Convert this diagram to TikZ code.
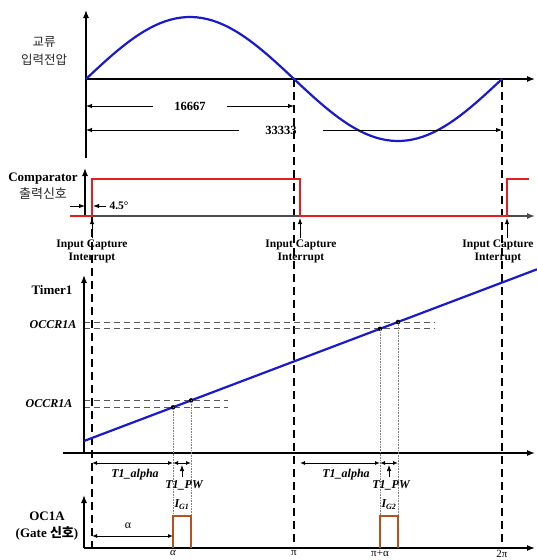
\documentclass[tikz,border=0pt]{standalone}
\usepackage{fontspec}
\setmainfont{Liberation Serif}
\newfontfamily\kr{Noto Sans CJK KR}
\usetikzlibrary{arrows.meta}
\definecolor{acblue}{RGB}{25,25,205}
\definecolor{cmpred}{RGB}{228,30,30}
\definecolor{gatebrown}{RGB}{185,80,30}

\begin{document}
\begin{tikzpicture}[x=1pt,y=-1pt,
    axis/.style={line width=1.3pt,-{Latex[length=8pt,width=6pt]}},
    dim/.style={line width=1pt,-{Latex[length=6pt,width=4.5pt]}},
    dimdbl/.style={line width=1pt,{Latex[length=5pt,width=4pt]}-{Latex[length=5pt,width=4pt]}},
    guide/.style={line width=1.2pt,dash pattern=on 8pt off 5pt},
    level/.style={gray!70!black,line width=0.9pt,dash pattern=on 6pt off 4pt},
    drop/.style={gray,line width=0.6pt,densely dotted},
    lbl/.style={font=\fontsize{13}{17}\selectfont\bfseries,align=center},
    krlbl/.style={font=\fontsize{12.5}{18}\selectfont\kr,align=center,text=black!85},
    txt/.style={font=\fontsize{12.5}{14}\selectfont\bfseries},
    itl/.style={font=\fontsize{12}{14}\selectfont\bfseries\itshape,inner sep=1pt},
    icap/.style={font=\fontsize{11.5}{13}\selectfont\bfseries,align=center,inner sep=1pt},
    tick/.style={anchor=north,font=\fontsize{11}{12}\selectfont,inner sep=0.5pt},
    dot/.style={circle,fill,inner sep=1.6pt},
  ]
  \useasboundingbox (0,0) rectangle (537,560);

  % key points (pixel grid, y grows downward)
  \coordinate (v0) at (86,79);     % AC axis origin
  \coordinate (cax) at (85,216);   % comparator axis
  \coordinate (tax) at (84,453);   % timer axis
  \coordinate (oax) at (84,548);   % OC1A axis
  \coordinate (xpi) at (294,79);
  \coordinate (x2pi) at (502,79);
  \coordinate (c1) at (92,216);
  \coordinate (c2) at (300,216);
  \coordinate (c3) at (507,216);
  \coordinate (t0) at (84,441);
  \coordinate (t1) at (537,269.3);
  \coordinate (g1a) at (173,407.3);
  \coordinate (g1b) at (191,400.4);
  \coordinate (g2a) at (380,328.8);
  \coordinate (g2b) at (398,322);
  \coordinate (ta) at (0,463);

  % dashed guides
  \draw[guide] (xpi) -- (xpi |- oax);
  \draw[guide] (x2pi) -- (x2pi |- oax);
  \draw[guide] (c1) -- (c1 |- oax);

  % AC input voltage
  \node[krlbl] (aclbl) at (44,51) {교류\\입력전압};
  \draw[axis] (86,158) -- (86,10);
  \draw[axis] (v0) -- (535,79);
  \draw[acblue,line width=2.2pt] plot[domain=0:360,samples=80] ({86+\x*1.15556},{79-62*sin(\x)});

  \node[txt,inner xsep=21pt] (n16667) at (190,106) {16667};
  \draw[dim] (n16667.west) -- (n16667.west -| v0);
  \draw[dim] (n16667.east) -- (n16667.east -| xpi);
  \node[txt,inner xsep=26pt] (n33333) at (281,130) {33333};
  \draw[dim] (n33333.west) -- (n33333.west -| v0);
  \draw[dim] (n33333.east) -- (n33333.east -| x2pi);

  % comparator output
  \node[lbl] (cmplbl) at (43,186) {Comparator\\{\kr\mdseries\fontsize{13}{17}\selectfont\color{black!85} 출력신호}};
  \draw[axis] (cax) -- (85,168);
  \draw[axis,gray!60!black] (cax) -- (535,216);
  \draw[cmpred,line width=2pt] (70,216) -- (c1) -- (92,179) -- (300,179) -- (c2) -- (c3) -- (507,179) -- (529,179);

  \coordinate (d1) at (70,206);
  \draw[dim] (d1) -- (d1 -| cax);
  \node[txt,font=\fontsize{11.5}{13}\selectfont\bfseries,inner xsep=3pt] (deg) at (119,206) {4.5°};
  \draw[dim,shorten >=1pt] (deg.west) -- (deg.west -| c1);

  \node[icap] (icap1) at (92,251) {Input Capture\\Interrupt};
  \node[icap] (icap2) at (301,251) {Input Capture\\Interrupt};
  \node[icap] (icap3) at (498,251) {Input Capture\\Interrupt};
  \draw[dim,shorten >=2pt] (icap1.north) -- (c1);
  \draw[dim,shorten >=2pt] (icap2.north -| c2) -- (c2);
  \draw[dim,shorten >=2pt] (icap3.north -| c3) -- (c3);

  % Timer1
  \node[lbl] (tmrlbl) at (52,290) {Timer1};
  \node[itl] (occr2) at (53,325) {OCCR1A};
  \node[itl] (occr1) at (49,404) {OCCR1A};
  \draw[level] (tax |- g2b) -- ++(351,0);
  \draw[level] (tax |- g2a) -- ++(351,0);
  \draw[level] (tax |- g1b) -- ++(144,0);
  \draw[level] (tax |- g1a) -- ++(144,0);
  \draw[axis] (tax) -- (84,275);
  \draw[axis] (63,453) -- (535,453);
  \draw[acblue,line width=2.2pt] (t0) -- (t1);
  \foreach \g in {g1a,g1b,g2a,g2b} {
    \node[dot] at (\g) {};
    \draw[drop] (\g) -- (\g |- oax);
  }

  \draw[dimdbl] (c1 |- ta) -- (g1a |- ta);
  \draw[dimdbl] (g1a |- ta) -- (g1b |- ta);
  \draw[dimdbl] (c2 |- ta) -- (g2a |- ta);
  \draw[dimdbl] (g2a |- ta) -- (g2b |- ta);
  \node[itl] (ta1) at (135,475) {T1\_alpha};
  \node[itl] (ta2) at (346,475) {T1\_alpha};
  \node[itl] (pw1) at (184,485) {T1\_PW};
  \node[itl] (pw2) at (391,485) {T1\_PW};
  \coordinate (u1) at (182,477);
  \coordinate (u2) at (389,477);
  \draw[dim,line width=0.7pt,shorten >=2pt] (u1) -- (u1 |- ta);
  \draw[dim,line width=0.7pt,shorten >=2pt] (u2) -- (u2 |- ta);

  % OC1A gate
  \node[lbl] (oclbl) at (47,526) {OC1A\\(Gate {\kr 신호})};
  \draw[axis] (oax) -- (84,495);
  \draw[axis] (oax) -- (535,548);
  \draw[gatebrown,line width=2pt] (g1a |- oax) |- (182,516) -| (g1b |- oax);
  \draw[gatebrown,line width=2pt] (g2a |- oax) |- (389,516) -| (g2b |- oax);
  \node[itl] (ig1) at (182,505) {I\textsubscript{G1}};
  \node[itl] (ig2) at (389,505) {I\textsubscript{G2}};

  \coordinate (al) at (0,536);
  \draw[dimdbl] (c1 |- al) -- (g1a |- al);
  \node[font=\fontsize{12}{14}\selectfont] (alpha) at (128,526) {α};

  \node[tick,font=\fontsize{11}{12}\selectfont\itshape] (xa) at (173,550) {α};
  \node[tick] (xp) at (294,550) {π};
  \node[tick] (xpa) at (380,550) {π+α};
  \node[tick] (x2p) at (502,550) {2π};
\end{tikzpicture}
\end{document}
